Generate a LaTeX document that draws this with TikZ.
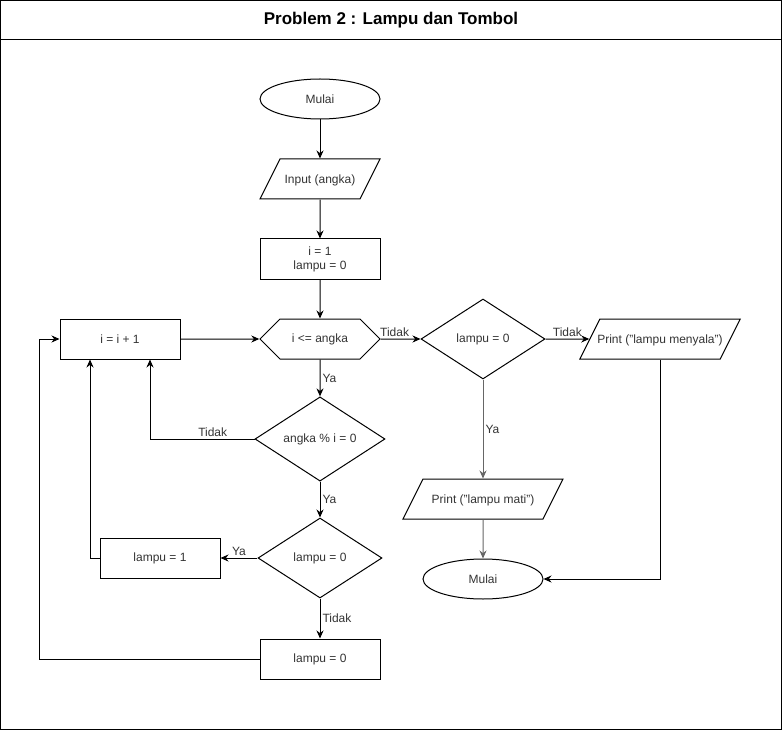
\documentclass[tikz,border=0pt]{standalone}
\usepackage{fontspec}
\setmainfont{Liberation Sans}
\usetikzlibrary{arrows.meta,positioning,shapes.geometric,shapes.symbols}
\definecolor{teks}{HTML}{333333}
\definecolor{garis}{HTML}{666666}

\begin{document}
\begin{tikzpicture}[node distance=80pt, x=1pt, y=1pt]

\tikzstyle{term} = [ellipse, minimum width=120pt, minimum height=40pt, inner sep=0pt, text centered, draw=black, line width=1pt, text=teks, font=\fontsize{12}{14}\selectfont]
\tikzstyle{io} = [trapezium, trapezium left angle=63.43, trapezium right angle=116.57, trapezium stretches body=true, text height=24.3pt, text depth=15.7pt, minimum width=120pt, inner sep=0pt, text centered, draw=black, line width=1pt, text=teks, font=\fontsize{12}{14}\selectfont]
\tikzstyle{proc} = [rectangle, minimum width=120pt, minimum height=40pt, inner sep=0pt, align=center, draw=black, line width=1pt, text=teks, font=\fontsize{12}{14}\selectfont]
\tikzstyle{hex} = [signal, signal to=east and west, signal pointer angle=90, minimum width=120pt, minimum height=40pt, inner sep=0pt, text centered, draw=black, line width=1pt, text=teks, font=\fontsize{12}{14}\selectfont]
\tikzstyle{dec} = [diamond, minimum width=124pt, minimum height=80pt, inner sep=0pt, text centered, draw=black, line width=1pt, text=teks, font=\fontsize{12}{14}\selectfont]
\tikzstyle{arr} = [-{Stealth[length=8pt,width=7pt]}, line width=1pt]
\tikzstyle{lbl} = [inner sep=2pt, text=teks, font=\fontsize{12}{14}\selectfont]

\useasboundingbox (0,0) rectangle (782,-730);
% frame and title
\draw [line width=1pt] (0.5,-0.5) rectangle (781.5,-729.5);
\draw [line width=1pt] (0,-40) -- (782,-40);
\node (judul) at (391,-20) {\fontsize{17}{20}\selectfont\bfseries Problem 2 : Lampu dan Tombol};

% main column
\node (mulai) [term] at (320,-99) {Mulai};
\node (input) [io, below of=mulai] {Input (angka)};
\node (init) [proc, below of=input] {i = 1\\lampu = 0};
\node (cek) [hex, below of=init] {i <= angka};
\node (tambah) [proc, left of=cek, xshift=-120pt] {i = i + 1};
\node (modulo) [dec, below of=cek, yshift=-20pt, minimum width=130pt] {angka \% i = 0};
\node (cekb) [dec, below of=modulo, yshift=-39pt] {lampu = 0};
\node (satu) [proc, left of=cekb, xshift=-80pt] {lampu = 1};
\node (nol) [proc, below of=cekb, yshift=-21pt] {lampu = 0};

% right column
\node (ceka) [dec, right of=cek, xshift=83pt] {lampu = 0};
\node (nyala) [io, right of=ceka, xshift=97pt, minimum width=160pt, inner xsep=-2.5pt] {Print ("lampu menyala")};
\node (mati) [io, below of=ceka, yshift=-80pt, minimum width=160pt] {Print ("lampu mati")};
\node (selesai) [term, below of=mati] {Mulai};

\draw [arr] (mulai) -- (input);
\draw [arr] (input) -- (init);
\draw [arr] (init) -- (cek);
\draw [arr] (tambah) -- (cek);
\draw [arr] (cek) -- node[lbl, right] {Ya} (modulo);
\draw [arr] (cek) -- node[lbl, above, pos=0.35] {Tidak} (ceka);
\draw [arr] (modulo.west) -| node[lbl, above, pos=0.2] {Tidak} ([xshift=30pt]tambah.south);
\draw [arr] (modulo) -- node[lbl, right] {Ya} (cekb);
\draw [arr] (cekb) -- node[lbl, above] {Ya} (satu);
\draw [arr] (satu.west) -| ([xshift=-30pt]tambah.south);
\draw [arr] (cekb) -- node[lbl, right] {Tidak} (nol);
\draw [arr] (nol.west) -- ++(-220pt,0) |- (tambah.west);
\draw [arr] (ceka) -- node[lbl, above] {Tidak} (nyala);
\draw [arr, draw=garis] (ceka) -- node[lbl, right] {Ya} (mati);
\draw [arr, draw=garis] (mati) -- (selesai);
\draw [arr] (nyala.south) |- (selesai.east);
\end{tikzpicture}
\end{document}
